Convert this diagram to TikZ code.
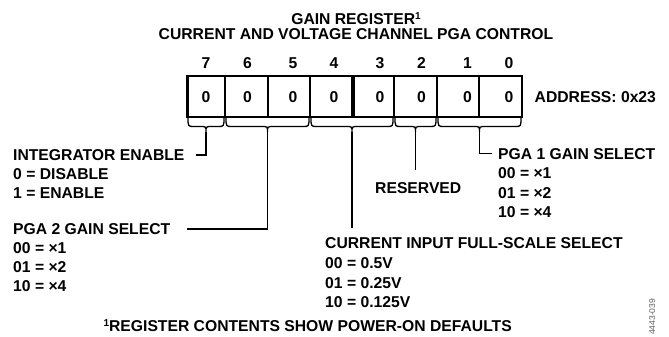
\documentclass[tikz,border=0pt]{standalone}
\usepackage{fontspec}
\setmainfont{Liberation Sans}
\definecolor{figgray}{RGB}{95,95,95}
\newcommand\regbrace[3]{%
  \draw[brc] (#1,117) .. controls (#1,126.5) .. (#1+6,126.5) -- ({(#1+#2)/2-6},126.5)
    .. controls ({(#1+#2)/2},126.5) .. ({(#1+#2)/2},132)
    .. controls ({(#1+#2)/2},126.5) .. ({(#1+#2)/2+6},126.5) -- (#2-6,126.5)
    .. controls (#2,126.5) .. (#2,117);
  \coordinate (#3) at ({(#1+#2)/2},132);}
\newcommand\supone{\raisebox{5pt}{\fontsize{10}{10}\selectfont 1}}
\begin{document}
\begin{tikzpicture}[x=1pt,y=-1pt,
  txt/.style={inner sep=0pt, font=\fontsize{15.7}{18}\selectfont\bfseries},
  lbl/.style={txt, anchor=base west},
  ctr/.style={txt, anchor=base},
  brc/.style={line width=1.3pt},
  ln/.style={line width=1.3pt},
  boxln/.style={line width=1.3pt}]
\useasboundingbox (0,0) rectangle (669,337);
% titles
\node[ctr] (t1) at (356,25) {GAIN REGISTER\supone};
\node[ctr] (t2) at (356,40) {CURRENT AND VOLTAGE CHANNEL PGA CONTROL};
% register box
\draw[boxln] (187,76) rectangle (522,117);
\draw[line width=2.4pt] (187.5,75.4) -- (187.5,117.6);
\foreach \x in {225,268,310,394,437,479} \draw[boxln] (\x,76) -- (\x,117);
\draw[line width=3.6pt] (353,76) -- (353,117);
% bit numbers and values
\foreach \b/\x in {7/206,6/247.5,5/293,4/334,3/380,2/421.5,1/467.5,0/509} {
  \node[ctr] (n\b) at (\x,68) {\b};
  \node[ctr] (v\b) at (\x,102) {0};
}
\node[lbl] (addr) at (534.5,102) {ADDRESS: 0x23};
% braces
\regbrace{188}{224}{tip1}
\regbrace{226}{309}{tip2}
\regbrace{311}{393}{tip3}
\regbrace{395}{436}{tip4}
\regbrace{438}{521}{tip5}
% left labels
\node[lbl] (ie) at (13,160.5) {INTEGRATOR ENABLE};
\node[lbl] (ie0) at (13,179.5) {0 = DISABLE};
\node[lbl] (ie1) at (13,198.5) {1 = ENABLE};
\node[lbl] (pg2) at (13,234.5) {PGA 2 GAIN SELECT};
\node[lbl] (pg2a) at (13,253.5) {00 = ×1};
\node[lbl] (pg2b) at (13,272.5) {01 = ×2};
\node[lbl] (pg2c) at (13,291.5) {10 = ×4};
% reserved
\node[lbl] (res) at (375,193.5) {RESERVED};
% PGA 1
\node[lbl] (pg1) at (498,159) {PGA 1 GAIN SELECT};
\node[lbl] (pg1a) at (498,178.5) {00 = ×1};
\node[lbl] (pg1b) at (498,198) {01 = ×2};
\node[lbl] (pg1c) at (498,217.5) {10 = ×4};
% current input
\node[lbl] (cur) at (325,248.5) {CURRENT INPUT FULL-SCALE SELECT};
\node[lbl] (cura) at (325,268.5) {00 = 0.5V};
\node[lbl] (curb) at (325,288) {01 = 0.25V};
\node[lbl] (curc) at (325,307.5) {10 = 0.125V};
% footnote
\node[txt, anchor=base east] (fn) at (512,331) {\supone REGISTER CONTENTS SHOW POWER-ON DEFAULTS};
\node[inner sep=0pt, anchor=base west, rotate=90, text=figgray,
      font=\fontsize{8.5}{10}\selectfont] (fig) at (655,335) {4443-039};
% connectors
\coordinate (ieend) at (196,155);
\coordinate (pg2end) at (187,229);
\coordinate (curend) at (352,228);
\coordinate (resend) at (415.5,170);
\coordinate (pg1end) at (492,153.5);
\draw[ln] (tip1) |- (ieend);
\draw[ln] (tip2) |- (pg2end);
\draw[ln] (tip3) -- (curend);
\draw[ln] (tip4) -- (resend);
\draw[ln] (tip5) |- (pg1end);
\end{tikzpicture}
\end{document}
